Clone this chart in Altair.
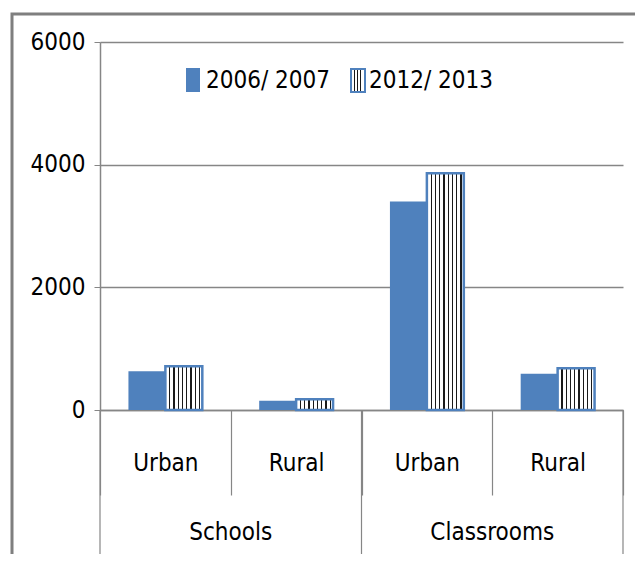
import altair as alt
import pandas as pd

groups = ["Schools", "Schools", "Classrooms", "Classrooms"]
areas = ["Urban", "Rural", "Urban", "Rural"]
years = ["2006/ 2007", "2012/ 2013"]
v2006 = [630, 150, 3400, 590]
v2012 = [715, 175, 3860, 680]
y_ticks = [0, 2000, 4000, 6000]

keys = [f"{g}|{a}" for g, a in zip(groups, areas)]
rows = []
for k, a, b in zip(keys, v2006, v2012):
    rows.append({"key": k, "year": years[0], "value": a})
    rows.append({"key": k, "year": years[1], "value": b})
df = pd.DataFrame(rows)
df06 = df[df["year"] == years[0]]
df12 = df[df["year"] == years[1]]

BLUE = "#4F81BD"
GRAY = "#868686"
FONT = "DejaVu Sans Condensed"
FS = 24


def stripes(n, start, step, w):
    stops = [{"offset": 0, "color": "#ffffff"}]
    for i in range(n):
        a = start + i * step
        stops += [
            {"offset": a, "color": "#ffffff"},
            {"offset": a, "color": "#1a1a1a"},
            {"offset": a + w, "color": "#1a1a1a"},
            {"offset": a + w, "color": "#ffffff"},
        ]
    stops.append({"offset": 1, "color": "#ffffff"})
    return {"gradient": "linear", "x1": 0, "y1": 0, "x2": 1, "y2": 0, "stops": stops}


bar_grad = stripes(8, 0.1, 0.115, 0.035)
leg_grad = stripes(3, 0.22, 0.2, 0.1)

x_scale = alt.Scale(domain=keys, paddingInner=0, paddingOuter=0)
x_axis = alt.Axis(
    title=None,
    labelExpr="split(datum.label, '|')[1]",
    labelFont=FONT, labelFontSize=FS, labelColor="#000000",
    labelAngle=0, labelPadding=-44, labelBaseline="top",
    tickBand="extent", tickSize=85, tickColor=GRAY, tickWidth=1.2,
    domainColor=GRAY, domainWidth=1.5, grid=False,
)
xo_scale = alt.Scale(domain=years, paddingInner=0, paddingOuter=0.77)
y_scale = alt.Scale(domain=[0, 6000], nice=False)
y_axis = alt.Axis(
    title=None, values=y_ticks, format="d", labelFont=FONT, labelFontSize=FS,
    labelColor="#000000", labelPadding=9, tickSize=6, tickColor=GRAY,
    domainColor=GRAY, domainWidth=1.5, grid=True, gridColor=GRAY, gridWidth=1.5,
)

X = alt.X("key:N", scale=x_scale, axis=x_axis, sort=keys)
XO = alt.XOffset("year:N", scale=xo_scale)
Y = alt.Y("value:Q", scale=y_scale, axis=y_axis)

bars06 = alt.Chart(df06).mark_bar(fill=BLUE, opacity=1).encode(x=X, xOffset=XO, y=Y)
bars12 = alt.Chart(df12).mark_bar(fill=bar_grad, stroke=BLUE, strokeWidth=2.5, opacity=1).encode(
    x=X, xOffset=XO, y=Y)

grp = pd.DataFrame({"label": ["Schools", "Classrooms"],
                    "key": [keys[1], keys[3]],
                    "start": [keys[0], keys[2]]})

long_rules = alt.Chart(grp).mark_rule(color=GRAY, strokeWidth=1.2).encode(
    x=alt.X("start:N", scale=x_scale, axis=x_axis, bandPosition=0),
    y=alt.value(368), y2=alt.value(700),
)
end_rule = alt.Chart(pd.DataFrame({"key": [keys[3]]})).mark_rule(color=GRAY, strokeWidth=1.2).encode(
    x=alt.X("key:N", scale=x_scale, axis=x_axis, bandPosition=1),
    y=alt.value(368), y2=alt.value(700),
)
grp_text = alt.Chart(grp).mark_text(font=FONT, fontSize=FS, color="#000000", baseline="middle").encode(
    x=alt.X("key:N", scale=x_scale, axis=x_axis, bandPosition=0),
    y=alt.value(491),
    text="label:N",
)
one = pd.DataFrame({"a": [0]})
frame = alt.Chart(one).mark_rect(
    fill="transparent", stroke="#7f7f7f", strokeWidth=3
).encode(x=alt.value(-88), y=alt.value(-28), x2=alt.value(800), y2=alt.value(800))

# legend (drawn by hand so the hatched symbol can be shown)
leg_sym1 = alt.Chart(one).mark_rect(fill=BLUE).encode(
    x=alt.value(86), x2=alt.value(100), y=alt.value(26), y2=alt.value(50))
leg_txt1 = alt.Chart(pd.DataFrame({"t": [years[0]]})).mark_text(
    font=FONT, fontSize=FS, align="left", baseline="middle", color="#000000"
).encode(x=alt.value(106), y=alt.value(39), text="t:N")
leg_sym2 = alt.Chart(one).mark_rect(fill=leg_grad, stroke=BLUE, strokeWidth=2).encode(
    x=alt.value(251), x2=alt.value(265), y=alt.value(27), y2=alt.value(50))
leg_txt2 = alt.Chart(pd.DataFrame({"t": [years[1]]})).mark_text(
    font=FONT, fontSize=FS, align="left", baseline="middle", color="#000000"
).encode(x=alt.value(269), y=alt.value(39), text="t:N")

chart = alt.layer(
    frame, bars06, bars12, long_rules, end_rule, grp_text,
    leg_sym1, leg_txt1, leg_sym2, leg_txt2
).properties(
    width=523, height=368,
    autosize=alt.AutoSizeParams(type="none"),
    padding={"left": 92, "top": 34, "right": 12, "bottom": 144},
).configure_view(stroke=None)

chart.save("out.html", embed_options={"renderer": "svg", "actions": False})
